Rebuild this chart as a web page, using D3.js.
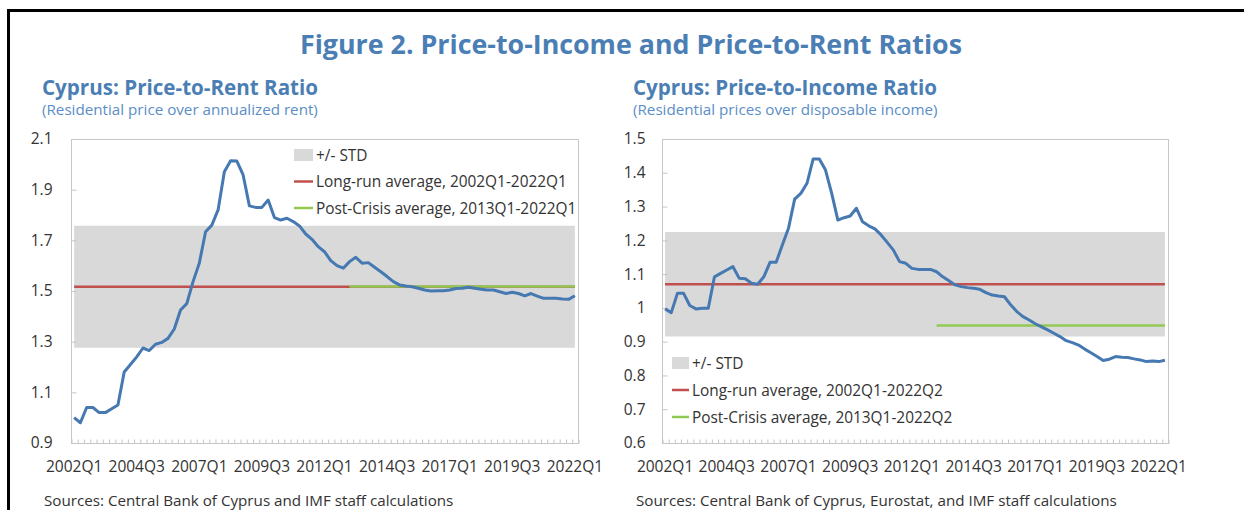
<!DOCTYPE html>
<html>
<head>
<meta charset="utf-8">
<script src="https://cdn.jsdelivr.net/npm/d3@7/dist/d3.min.js"></script>
<style>
  body { margin: 0; background: #fff; }
  svg { display: block; }
  text { font-family: "Open Sans", "Noto Sans", sans-serif; }
</style>
</head>
<body>
<div id="container"></div>
<script>
/* CONSTANTS AND GLOBALS */
const width = 1244,
  height = 510;

// quarterly categories, 2002Q1 onwards
const makeQuarters = (count) =>
  d3.range(count).map(i => `${2002 + Math.floor(i / 4)}Q${(i % 4) + 1}`);

const rentQuarters = makeQuarters(81);   // 2002Q1 - 2022Q1
const incomeQuarters = makeQuarters(82); // 2002Q1 - 2022Q2

const xTickLabels = ["2002Q1", "2004Q3", "2007Q1", "2009Q3", "2012Q1",
  "2014Q3", "2017Q1", "2019Q3", "2022Q1"];

// price-to-rent ratio (left panel)
const rentRatio = [
  1.00, 0.98, 1.04, 1.04, 1.02, 1.02, 1.035, 1.05, 1.18, 1.21,
  1.24, 1.275, 1.265, 1.29, 1.297, 1.313, 1.35, 1.425, 1.45, 1.537,
  1.61, 1.734, 1.76, 1.82, 1.971, 2.014, 2.013, 1.958, 1.836, 1.83,
  1.83, 1.859, 1.79, 1.78, 1.787, 1.774, 1.757, 1.725, 1.704, 1.675,
  1.655, 1.62, 1.60, 1.59, 1.616, 1.633, 1.61, 1.612, 1.594, 1.576,
  1.557, 1.537, 1.524, 1.52, 1.517, 1.511, 1.504, 1.50, 1.501, 1.501,
  1.504, 1.51, 1.511, 1.515, 1.511, 1.507, 1.504, 1.504, 1.497, 1.49,
  1.495, 1.49, 1.481, 1.49, 1.48, 1.471, 1.471, 1.471, 1.468, 1.467,
  1.481
];
const rentLongRunAvg = 1.517;
const rentStd = 0.241;
const rentPostCrisisAvg = 1.518;

// price-to-income ratio (right panel)
const incomeRatio = [
  0.997, 0.986, 1.043, 1.043, 1.007, 0.997, 0.999, 0.999, 1.092, 1.102,
  1.112, 1.122, 1.088, 1.086, 1.073, 1.07, 1.092, 1.135, 1.135, 1.186,
  1.236, 1.322, 1.339, 1.369, 1.441, 1.441, 1.408, 1.339, 1.26, 1.267,
  1.272, 1.295, 1.255, 1.243, 1.234, 1.216, 1.194, 1.171, 1.137, 1.132,
  1.117, 1.114, 1.114, 1.114, 1.107, 1.092, 1.08, 1.068, 1.063, 1.06,
  1.058, 1.055, 1.045, 1.038, 1.035, 1.033, 1.009, 0.989, 0.974, 0.964,
  0.953, 0.944, 0.935, 0.925, 0.915, 0.903, 0.897, 0.89, 0.878, 0.867,
  0.856, 0.844, 0.848, 0.856, 0.854, 0.853, 0.849, 0.846, 0.841, 0.843,
  0.841, 0.845
];
const incomeLongRunAvg = 1.070;
const incomeStd = 0.155;
const incomePostCrisisAvg = 0.948;

const postCrisisStart = "2013Q1";

const rentYTicks = [0.9, 1.1, 1.3, 1.5, 1.7, 1.9, 2.1];
const incomeYTicks = [0.6, 0.7, 0.8, 0.9, 1, 1.1, 1.2, 1.3, 1.4, 1.5];

const colors = {
  title: "#4a7eb4",
  sub: "#5b8ec6",
  line: "#4679b2",
  red: "#c0504d",
  green: "#92c953",
  band: "#d9d9d9",
  axis: "#c6c6c6",
  text: "#333333"
};

/* SVG */
const svg = d3.select("#container")
  .append("svg")
  .attr("width", width)
  .attr("height", height);

// black frame round the figure
svg.append("rect")
  .attr("x", 8.5).attr("y", 10.5)
  .attr("width", 1260).attr("height", 540)
  .attr("fill", "none")
  .attr("stroke", "#000")
  .attr("stroke-width", 3);

svg.append("text")
  .attr("x", 631).attr("y", 54)
  .attr("text-anchor", "middle")
  .attr("font-weight", "bold")
  .attr("font-size", 26.8)
  .attr("fill", colors.title)
  .text("Figure 2. Price-to-Income and Price-to-Rent Ratios");

/* PANEL */
function drawPanel(p) {
  const g = svg.append("g");

  // titles
  g.append("text")
    .attr("x", p.titleX).attr("y", 95)
    .attr("font-weight", "bold").attr("font-size", 20.6)
    .attr("fill", colors.title)
    .text(p.title);
  g.append("text")
    .attr("x", p.titleX).attr("y", 115)
    .attr("font-size", 15.2)
    .attr("fill", colors.sub)
    .text(p.subtitle);

  // scales
  const xScale = d3.scaleBand()
    .domain(p.quarters)
    .range([p.left, p.right]);
  const cx = q => xScale(q) + xScale.bandwidth() / 2;

  const yScale = d3.scaleLinear()
    .domain([p.yTicks[0], p.yTicks[p.yTicks.length - 1]])
    .range([p.bottom, p.top]);

  const rows = p.quarters.map((q, i) => ({ q, v: p.values[i] }));

  // +/- STD band
  const areaGen = d3.area()
    .x(d => cx(d.q))
    .y0(yScale(p.avg - p.std))
    .y1(yScale(p.avg + p.std));
  g.append("path")
    .datum(rows)
    .attr("fill", colors.band)
    .attr("d", areaGen);

  // plot frame
  g.append("rect")
    .attr("x", p.left + 0.5).attr("y", p.top + 0.5)
    .attr("width", p.right - p.left).attr("height", p.bottom - p.top)
    .attr("fill", "none")
    .attr("stroke", colors.axis);

  // y axis
  const yAxis = d3.axisLeft(yScale)
    .tickValues(p.yTicks)
    .tickFormat(d => String(d))
    .tickSize(-5)
    .tickPadding(p.yPad);
  const yg = g.append("g")
    .attr("transform", `translate(${p.left + 0.5},0)`)
    .call(yAxis);
  yg.select(".domain").remove();
  yg.selectAll(".tick line").attr("stroke", colors.axis);
  yg.selectAll(".tick text")
    .attr("font-size", 15.5)
    .attr("fill", colors.text)
    .attr("font-family", "\"Open Sans\", sans-serif");

  // x axis minor ticks at category boundaries
  const xEdge = d3.scaleLinear()
    .domain([0, p.quarters.length])
    .range([p.left, p.right]);
  const xg = g.append("g")
    .attr("transform", `translate(0.5,${p.bottom + 0.5})`)
    .call(d3.axisBottom(xEdge)
      .tickValues(d3.range(p.quarters.length + 1))
      .tickFormat("")
      .tickSize(-4));
  xg.select(".domain").remove();
  xg.selectAll(".tick line").attr("stroke", colors.axis);

  // x axis labels
  const xl = g.append("g")
    .attr("transform", `translate(0,${p.bottom})`)
    .call(d3.axisBottom(xScale)
      .tickValues(xTickLabels)
      .tickSize(0)
      .tickPadding(18));
  xl.select(".domain").remove();
  xl.selectAll(".tick text")
    .attr("font-size", 15.5)
    .attr("fill", colors.text)
    .attr("font-family", "\"Open Sans\", sans-serif");

  // averages
  const flatLine = v => d3.line().x(d => cx(d.q)).y(yScale(v));
  g.append("path")
    .datum(rows)
    .attr("fill", "none")
    .attr("stroke", colors.red)
    .attr("stroke-width", 2.5)
    .attr("d", flatLine(p.avg));
  g.append("path")
    .datum(rows.filter(d => d.q >= postCrisisStart))
    .attr("fill", "none")
    .attr("stroke", colors.green)
    .attr("stroke-width", 2.5)
    .attr("d", flatLine(p.postAvg));

  // ratio line
  const lineGen = d3.line()
    .x(d => cx(d.q))
    .y(d => yScale(d.v));
  g.append("path")
    .datum(rows)
    .attr("fill", "none")
    .attr("stroke", colors.line)
    .attr("stroke-width", 3)
    .attr("stroke-linejoin", "round")
    .attr("d", lineGen);

  // legend
  const lg = p.legend;
  g.append("rect")
    .attr("x", lg.x).attr("y", lg.y - 6)
    .attr("width", lg.w).attr("height", 12)
    .attr("fill", colors.band);
  [colors.red, colors.green].forEach((c, i) => {
    g.append("line")
      .attr("x1", lg.x).attr("x2", lg.x + lg.w)
      .attr("y1", lg.y + (i + 1) * lg.step).attr("y2", lg.y + (i + 1) * lg.step)
      .attr("stroke", c).attr("stroke-width", 2.5);
  });
  p.legendLabels.forEach((t, i) => {
    g.append("text")
      .attr("x", lg.x + lg.w + 3)
      .attr("y", lg.y + i * lg.step + 5.5)
      .attr("font-size", 15.4)
      .attr("fill", colors.text)
      .text(t);
  });

  // source note
  g.append("text")
    .attr("x", p.sourceX).attr("y", 506)
    .attr("font-size", 15.2)
    .attr("fill", colors.text)
    .text(p.source);
}

drawPanel({
  title: "Cyprus: Price-to-Rent Ratio",
  subtitle: "(Residential price over annualized rent)",
  titleX: 42,
  left: 71, right: 578, top: 139, bottom: 443,
  yPad: 19,
  quarters: rentQuarters,
  values: rentRatio,
  yTicks: rentYTicks,
  avg: rentLongRunAvg, std: rentStd, postAvg: rentPostCrisisAvg,
  legend: { x: 294, y: 155, w: 19, step: 26.5 },
  legendLabels: ["+/- STD", "Long-run average, 2002Q1-2022Q1", "Post-Crisis average, 2013Q1-2022Q1"],
  source: "Sources: Central Bank of Cyprus and IMF staff calculations",
  sourceX: 44
});

drawPanel({
  title: "Cyprus: Price-to-Income Ratio",
  subtitle: "(Residential prices over disposable income)",
  titleX: 633,
  left: 662, right: 1168, top: 139, bottom: 443,
  yPad: 17,
  quarters: incomeQuarters,
  values: incomeRatio,
  yTicks: incomeYTicks,
  avg: incomeLongRunAvg, std: incomeStd, postAvg: incomePostCrisisAvg,
  legend: { x: 672, y: 363, w: 17, step: 27 },
  legendLabels: ["+/- STD", "Long-run average, 2002Q1-2022Q2", "Post-Crisis average, 2013Q1-2022Q2"],
  source: "Sources: Central Bank of Cyprus, Eurostat, and IMF staff calculations",
  sourceX: 636
});
</script>
</body>
</html>
